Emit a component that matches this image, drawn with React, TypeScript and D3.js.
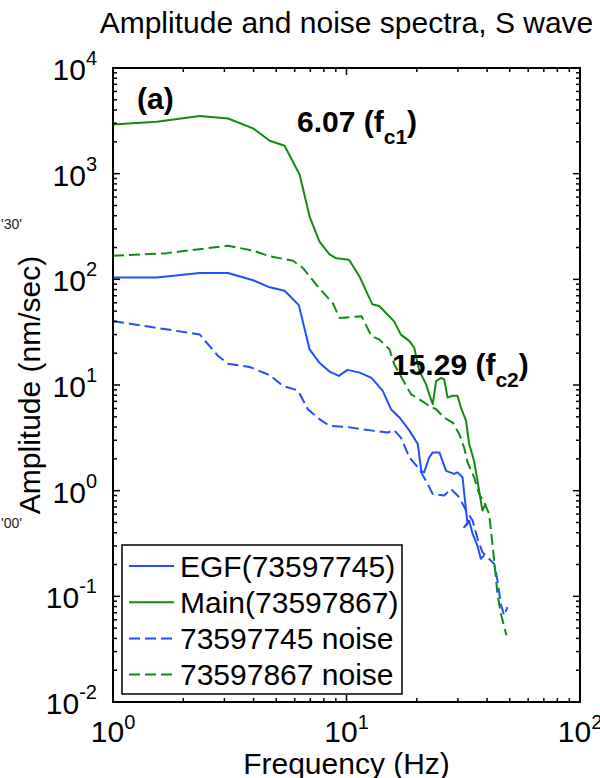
import * as d3 from 'd3'

// values (Hz, nm/sec)
const mainFreq = [1.0, 1.54, 2.35, 3.11, 3.98, 4.69, 5.43, 6.3, 6.95, 7.66, 8.46, 9.04, 10.1, 10.3, 11.4, 12.9, 13.8, 16.0, 17.1, 18.6, 19.5, 20.5, 21.9, 22.6, 23.4, 24.2, 25.4, 26.2, 27.1, 28.5, 29.9, 30.9, 32.5, 33.5, 35.2, 36.4, 37.6, 38.2, 39.5]
const mainAmp = [2920, 3100, 3520, 3330, 2680, 2050, 1840, 980, 393, 228, 172, 158, 154, 151, 105, 58, 56, 40, 30, 26, 22.5, 13.6, 10.2, 8.2, 6.6, 10.9, 11.7, 11.3, 7.6, 7.9, 7.9, 6.1, 4.6, 2.8, 1.9, 1.24, 0.8, 0.65, 0.75]

const egfFreq = [1.0, 1.54, 2.35, 3.11, 3.98, 4.69, 5.43, 6.25, 6.95, 7.66, 8.46, 9.27, 10.1, 11.4, 12.8, 14.3, 15.5, 16.9, 18.6, 20.2, 20.9, 21.5, 22.6, 23.4, 25.0, 26.7, 28.9, 29.9, 31.4, 32.5, 33.0, 31.9, 33.5, 34.7, 36.4, 37.6, 38.9]
const egfAmp = [104, 104, 115, 115, 98, 84, 78, 57, 21.7, 16.2, 13.4, 12.2, 13.9, 13.1, 11.7, 8.8, 5.9, 4.9, 3.7, 2.76, 1.54, 1.49, 2.06, 2.3, 2.3, 1.54, 1.44, 1.49, 1.34, 0.65, 0.485, 0.45, 0.52, 0.39, 0.3, 0.227, 0.244]

const egfNoiseFreq = [1.0, 1.44, 2.35, 2.82, 3.11, 3.85, 4.69, 5.34, 6.19, 6.83, 7.66, 8.46, 10.1, 11.7, 12.9, 15.0, 16.0, 17.1, 18.6, 20.5, 21.9, 23.4, 26.2, 28.0, 30.4, 32.5, 34.7, 36.4, 38.2, 42.9, 44.3, 45.8, 47.3, 48.9]
const egfNoiseAmp = [40.2, 35.5, 30.1, 18.8, 15.9, 14.8, 12.4, 9.8, 8.9, 5.9, 4.75, 4.1, 4.0, 3.8, 3.7, 3.55, 3.74, 3.18, 2.06, 1.6, 1.24, 0.93, 0.9, 1.04, 0.865, 0.648, 0.52, 0.352, 0.262, 0.203, 0.142, 0.085, 0.066, 0.079]

const mainNoiseFreq = [1.0, 1.7, 3.11, 3.98, 4.69, 5.9, 6.51, 7.42, 8.74, 9.34, 11.6, 12.8, 13.8, 15.3, 16.0, 18.9, 20.5, 22.6, 24.2, 26.2, 28.5, 30.4, 31.9, 33.0, 35.2, 37.0, 38.9, 40.8, 41.5, 42.9, 44.3, 45.8, 48.4]
const mainNoiseAmp = [167, 177, 208, 187, 165, 150, 128, 89, 59.4, 43.1, 44.8, 29.0, 27.0, 21.7, 15.7, 8.17, 7.33, 6.34, 5.9, 4.91, 4.41, 3.43, 2.56, 1.85, 1.34, 0.93, 0.776, 0.603, 0.435, 0.219, 0.106, 0.0687, 0.0429]

const xExps = [0, 1, 2]
const yExps = [-2, -1, 0, 1, 2, 3, 4]

const BLUE = '#1f4fff'
const GREEN = '#148a14'

const series = [
  { name: 'EGF(73597745)', f: egfFreq, a: egfAmp, color: BLUE, dash: null },
  { name: 'Main(73597867)', f: mainFreq, a: mainAmp, color: GREEN, dash: null },
  { name: '73597745 noise', f: egfNoiseFreq, a: egfNoiseAmp, color: BLUE, dash: '11,5' },
  { name: '73597867 noise', f: mainNoiseFreq, a: mainNoiseAmp, color: GREEN, dash: '11,5' },
]

const width = 600
const height = 778
const left = 113
const right = 580
const top = 68
const bottom = 702
const font = "'Liberation Sans', Arial, Helvetica, sans-serif"

export default function App() {
  const x = d3.scaleLog().domain([1, 100]).range([left, right])
  const y = d3.scaleLog().domain([0.01, 10000]).range([bottom, top])

  const line = d3
    .line<[number, number]>()
    .x((d) => x(d[0]))
    .y((d) => y(d[1]))

  // minor ticks 2..9 inside each decade
  const minorX: number[] = []
  for (let e = 0; e < 2; e++) for (let k = 2; k <= 9; k++) minorX.push(k * 10 ** e)
  const minorY: number[] = []
  for (let e = -2; e < 4; e++) for (let k = 2; k <= 9; k++) minorY.push(k * 10 ** e)

  const majorLen = 7
  const minorLen = 4

  return (
    <svg
      width={width}
      height={height}
      style={{ position: 'absolute', left: 0, top: 0, background: '#fff' }}
      fontFamily={font}
    >
      <rect width={width} height={height} fill="#fff" />
      <defs>
        <clipPath id="plot">
          <rect x={left} y={top} width={right - left} height={bottom - top} />
        </clipPath>
      </defs>

      {/* stray labels from the neighbouring panel */}
      <text x={1} y={229} fontSize={14} fill="#222">'30'</text>
      <text x={1} y={528} fontSize={14} fill="#222">'00'</text>

      <text x={(left + right) / 2} y={33} fontSize={30} textAnchor="middle">
        Amplitude and noise spectra, S wave
      </text>

      <g clipPath="url(#plot)">
        {series.map((s) => (
          <path
            key={s.name}
            d={line(s.f.map((f, i) => [f, s.a[i]] as [number, number])) || ''}
            fill="none"
            stroke={s.color}
            strokeWidth={2}
            strokeDasharray={s.dash || undefined}
            strokeLinejoin="round"
          />
        ))}
      </g>

      {/* ticks on all four sides, pointing in */}
      <g stroke="#000" strokeWidth={1.5}>
        {xExps.map((e) => (
          <g key={'xm' + e}>
            <line x1={x(10 ** e)} x2={x(10 ** e)} y1={bottom} y2={bottom - majorLen} />
            <line x1={x(10 ** e)} x2={x(10 ** e)} y1={top} y2={top + majorLen} />
          </g>
        ))}
        {minorX.map((v) => (
          <g key={'xn' + v}>
            <line x1={x(v)} x2={x(v)} y1={bottom} y2={bottom - minorLen} />
            <line x1={x(v)} x2={x(v)} y1={top} y2={top + minorLen} />
          </g>
        ))}
        {yExps.map((e) => (
          <g key={'ym' + e}>
            <line x1={left} x2={left + majorLen} y1={y(10 ** e)} y2={y(10 ** e)} />
            <line x1={right} x2={right - majorLen} y1={y(10 ** e)} y2={y(10 ** e)} />
          </g>
        ))}
        {minorY.map((v) => (
          <g key={'yn' + v}>
            <line x1={left} x2={left + minorLen} y1={y(v)} y2={y(v)} />
            <line x1={right} x2={right - minorLen} y1={y(v)} y2={y(v)} />
          </g>
        ))}
      </g>
      <rect x={left} y={top} width={right - left} height={bottom - top} fill="none" stroke="#000" strokeWidth={2} />

      {/* tick labels */}
      {xExps.map((e) => (
        <text key={'xl' + e} x={x(10 ** e)} y={bottom + 40} fontSize={30} textAnchor="middle">
          10<tspan dy={-13} fontSize={20}>{e}</tspan>
        </text>
      ))}
      {yExps.map((e) => (
        <text key={'yl' + e} x={97} y={y(10 ** e) + 12} fontSize={30} textAnchor="end">
          10<tspan dy={-15} fontSize={20}>{e}</tspan>
        </text>
      ))}

      <text x={(left + right) / 2} y={774} fontSize={30} textAnchor="middle">
        Frequency (Hz)
      </text>
      <text
        transform={`translate(40,${(top + bottom) / 2}) rotate(-90)`}
        fontSize={30}
        textAnchor="middle"
      >
        Amplitude (nm/sec)
      </text>

      {/* annotations */}
      <text x={137} y={109} fontSize={30} fontWeight="bold">(a)</text>
      <text x={297} y={132} fontSize={30} fontWeight="bold">
        6.07 (f<tspan dy={12} fontSize={21}>c1</tspan><tspan dy={-12}>)</tspan>
      </text>
      <text x={392} y={375} fontSize={30} fontWeight="bold">
        15.29 (f<tspan dy={12} fontSize={21}>c2</tspan><tspan dy={-12}>)</tspan>
      </text>

      {/* legend */}
      <rect x={122} y={545} width={280} height={149} fill="#fff" stroke="#000" strokeWidth={1.5} />
      {series.map((s, i) => {
        const cy = 566 + i * 36.2
        return (
          <g key={'lg' + s.name}>
            <line x1={129} x2={174} y1={cy} y2={cy} stroke={s.color} strokeWidth={2} strokeDasharray={s.dash || undefined} />
            <text x={180} y={cy + 10.5} fontSize={30}>{s.name}</text>
          </g>
        )
      })}
    </svg>
  )
}
